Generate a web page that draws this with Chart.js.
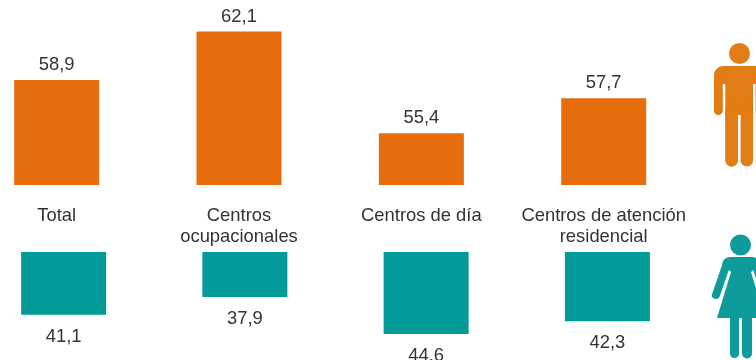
<!DOCTYPE html>
<html>
<head>
<meta charset="utf-8">
<title>Hombres y mujeres por tipo de centro</title>
<script src="https://cdn.jsdelivr.net/npm/chart.js@4"></script>
<style>
  html, body { margin: 0; padding: 0; background: #fff; }
  body { position: relative; width: 756px; height: 360px; overflow: hidden; }
  canvas { position: absolute; }
  #menChart { left: -35px; top: 0; }
  #womenChart { left: -27px; top: 252px; }
  #icons { position: absolute; left: 0; top: 0; }
</style>
</head>
<body>
<canvas id="menChart" width="733" height="252"></canvas>
<canvas id="womenChart" width="725" height="120"></canvas>
<svg id="icons" width="756" height="360" viewBox="0 0 756 360">
  <g fill="#E27C14" stroke="#E27C14" stroke-linecap="round">
    <circle cx="739.5" cy="53.5" r="10.5" stroke="none"/>
    <rect x="714" y="66" width="51" height="18" rx="9" stroke="none"/>
    <rect x="725.3" y="76" width="27.7" height="39" stroke="none"/>
    <line x1="718.4" y1="76" x2="718.4" y2="110.7" stroke-width="8.8"/>
    <line x1="760" y1="76" x2="760" y2="110.7" stroke-width="8.8"/>
    <line x1="731.6" y1="110" x2="731.6" y2="160.3" stroke-width="12.8"/>
    <line x1="746.8" y1="110" x2="746.8" y2="160.3" stroke-width="12.4"/>
  </g>
  <g fill="#0E9B9B" stroke="#0E9B9B" stroke-linecap="round">
    <circle cx="740.5" cy="245" r="10.5" stroke="none"/>
    <path d="M730 257 H752 Q758 257 760 264 L751 272 L765 318 H717 L731 272 L722 264 Q724 257 730 257 Z" stroke="none"/>
    <line x1="727" y1="263" x2="716" y2="295" stroke-width="8"/>
    <line x1="755" y1="263" x2="766" y2="295" stroke-width="8"/>
    <line x1="734.5" y1="310" x2="734.5" y2="353.5" stroke-width="9"/>
    <line x1="747" y1="310" x2="747" y2="353.5" stroke-width="10"/>
  </g>
</svg>
<script>
const categories = ['Total', ['Centros', 'ocupacionales'], 'Centros de día', ['Centros de atención', 'residencial']];
const menValues = [58.9, 62.1, 55.4, 57.7];
const womenValues = [41.1, 37.9, 44.6, 42.3];

const textColor = '#333333';
const labelFont = '18.4px "Liberation Sans", Arial, sans-serif';

// prints the value above or below each bar, with a decimal comma
const valueLabels = {
  id: 'valueLabels',
  afterDatasetsDraw(chart, args, opts) {
    const ctx = chart.ctx;
    const meta = chart.getDatasetMeta(0);
    ctx.save();
    ctx.font = labelFont;
    ctx.fillStyle = textColor;
    ctx.textAlign = 'center';
    ctx.textBaseline = 'middle';
    meta.data.forEach(function(bar, i) {
      const text = chart.data.datasets[0].data[i].toFixed(1).replace('.', ',');
      ctx.fillText(text, bar.x, bar.y + opts.offset);
    });
    ctx.restore();
  }
};

// Men chart (bars go up, labels on the x axis)
new Chart(document.getElementById('menChart').getContext('2d'), {
  type: 'bar',
  data: {
    labels: categories,
    datasets: [{ data: menValues, backgroundColor: '#E56D0C', barPercentage: 0.466, categoryPercentage: 1 }]
  },
  options: {
    responsive: false,
    animation: false,
    devicePixelRatio: 1,
    layout: { padding: { top: 17.8, left: 0.5, right: 0, bottom: 0 } },
    plugins: { legend: { display: false }, tooltip: { enabled: false }, valueLabels: { offset: -15 } },
    scales: {
      x: {
        grid: { display: false },
        border: { display: false },
        afterFit(axis) { axis.height = 67; },
        ticks: { color: textColor, font: { family: '"Liberation Sans", Arial, sans-serif', size: 18.4, lineHeight: 1.14 }, padding: 12, maxRotation: 0, autoSkip: false }
      },
      y: { display: false, min: 52, max: 63 }
    }
  },
  plugins: [valueLabels]
});

// Women chart (bars hang down from the top)
new Chart(document.getElementById('womenChart').getContext('2d'), {
  type: 'bar',
  data: {
    labels: categories,
    datasets: [{ data: womenValues, backgroundColor: '#009B98', barPercentage: 0.469, categoryPercentage: 1 }]
  },
  options: {
    responsive: false,
    animation: false,
    devicePixelRatio: 1,
    layout: { padding: { top: 0, left: 0, right: 0, bottom: 10 } },
    plugins: { legend: { display: false }, tooltip: { enabled: false }, valueLabels: { offset: 22 } },
    scales: {
      x: { display: false },
      y: { display: false, reverse: true, min: 29.7, max: 49.7 }
    }
  },
  plugins: [valueLabels]
});
</script>
</body>
</html>
